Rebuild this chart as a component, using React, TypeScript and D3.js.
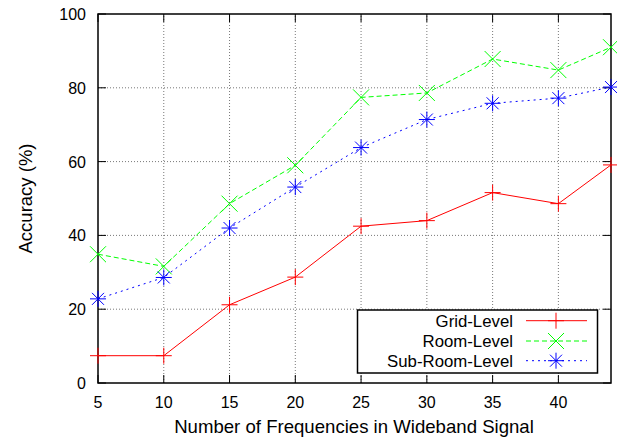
import React, { useEffect, useRef } from "react";
import * as d3 from "d3";

const xValues = [5, 10, 15, 20, 25, 30, 35, 40, 44];
const gridLevel = [7.4, 7.4, 21.2, 28.7, 42.5, 44.0, 51.6, 48.6, 59.1];
const roomLevel = [34.9, 31.6, 48.6, 59.0, 77.4, 78.6, 87.8, 84.8, 91.0];
const subRoomLevel = [22.8, 28.6, 42.0, 53.1, 63.8, 71.4, 75.8, 77.2, 80.2];
const xTicks = [5, 10, 15, 20, 25, 30, 35, 40];
const yTicks = [0, 20, 40, 60, 80, 100];
const seriesNames = ["Grid-Level", "Room-Level", "Sub-Room-Level"];
const seriesColors = ["#ff0000", "#00ff00", "#0000ff"];
const seriesDash = ["none", "5,3", "2,4"];
const seriesMarkers = ["plus", "cross", "star"];

const W = 617, H = 443;
const M = { left: 98, right: 6, top: 14, bottom: 60 };
const FONT = "'Liberation Sans', Arial, sans-serif";

function markerPath(kind: string, s: number): string {
  if (kind === "plus") return `M${-s},0L${s},0M0,${-s}L0,${s}`;
  if (kind === "cross") return `M${-s},${-s}L${s},${s}M${-s},${s}L${s},${-s}`;
  return `M${-s},0L${s},0M0,${-s}L0,${s}M${-s * 0.75},${-s * 0.75}L${s * 0.75},${s * 0.75}M${-s * 0.75},${s * 0.75}L${s * 0.75},${-s * 0.75}`;
}

export default function App() {
  const ref = useRef<SVGSVGElement>(null);
  useEffect(() => {
    const svg = d3.select(ref.current);
    svg.selectAll("*").remove();
    const x = d3.scaleLinear().domain([5, 44]).range([M.left, W - M.right]);
    const y = d3.scaleLinear().domain([0, 100]).range([H - M.bottom, M.top]);
    const x0 = x.range()[0], x1 = x.range()[1], y0 = y.range()[0], y1 = y.range()[1];

    const g = svg.append("g");
    // grid
    xTicks.forEach((t) => {
      if (t === 5) return;
      g.append("line").attr("x1", x(t)).attr("x2", x(t)).attr("y1", y0).attr("y2", y1)
        .attr("stroke", "#555").attr("stroke-width", 0.8).attr("stroke-dasharray", "1,2");
    });
    yTicks.forEach((t) => {
      if (t === 0 || t === 100) return;
      g.append("line").attr("x1", x0).attr("x2", x1).attr("y1", y(t)).attr("y2", y(t))
        .attr("stroke", "#555").attr("stroke-width", 0.8).attr("stroke-dasharray", "1,2");
    });
    // ticks
    const tl = 8;
    xTicks.forEach((t) => {
      g.append("line").attr("x1", x(t)).attr("x2", x(t)).attr("y1", y0).attr("y2", y0 - tl).attr("stroke", "#000");
      g.append("line").attr("x1", x(t)).attr("x2", x(t)).attr("y1", y1).attr("y2", y1 + tl).attr("stroke", "#000");
      g.append("text").attr("x", x(t)).attr("y", y0 + 25).attr("text-anchor", "middle")
        .attr("font-family", FONT).attr("font-size", 16).text(String(t));
    });
    yTicks.forEach((t) => {
      g.append("line").attr("x1", x0).attr("x2", x0 + tl).attr("y1", y(t)).attr("y2", y(t)).attr("stroke", "#000");
      g.append("line").attr("x1", x1).attr("x2", x1 - tl).attr("y1", y(t)).attr("y2", y(t)).attr("stroke", "#000");
      g.append("text").attr("x", x0 - 12).attr("y", y(t) + 6).attr("text-anchor", "end")
        .attr("font-family", FONT).attr("font-size", 16).text(String(t));
    });
    // border
    g.append("rect").attr("x", x0).attr("y", y1).attr("width", x1 - x0).attr("height", y0 - y1)
      .attr("fill", "none").attr("stroke", "#000").attr("stroke-width", 1.5);

    // labels
    g.append("text").attr("x", 354).attr("y", 433).attr("text-anchor", "middle")
      .attr("font-family", FONT).attr("font-size", 18.6).text("Number of Frequencies in Wideband Signal");
    g.append("text").attr("transform", `translate(32,${(y0 + y1) / 2}) rotate(-90)`).attr("text-anchor", "middle")
      .attr("font-family", FONT).attr("font-size", 18.5).text("Accuracy (%)");

    const all = [gridLevel, roomLevel, subRoomLevel];
    const line = d3.line<number>().x((_, i) => x(xValues[i])).y((d) => y(d));
    all.forEach((vals, si) => {
      g.append("path").attr("d", line(vals)!).attr("fill", "none").attr("stroke", seriesColors[si])
        .attr("stroke-width", 1).attr("stroke-dasharray", seriesDash[si]);
      vals.forEach((v, i) => {
        g.append("path").attr("d", markerPath(seriesMarkers[si], 8))
          .attr("transform", `translate(${x(xValues[i])},${y(v)})`)
          .attr("fill", "none").attr("stroke", seriesColors[si]).attr("stroke-width", 1);
      });
    });

    // legend
    const lg = g.append("g");
    lg.append("rect").attr("x", 357.5).attr("y", 310).attr("width", 240).attr("height", 63)
      .attr("fill", "#fff").attr("stroke", "#000").attr("stroke-width", 1.5);
    const baselines = [326.7, 347, 366.7];
    seriesNames.forEach((name, si) => {
      const ly = baselines[si] - 6;
      lg.append("text").attr("x", 513).attr("y", baselines[si]).attr("text-anchor", "end")
        .attr("font-family", FONT).attr("font-size", 16.8).text(name);
      lg.append("line").attr("x1", 526).attr("x2", 587).attr("y1", ly).attr("y2", ly)
        .attr("stroke", seriesColors[si]).attr("stroke-dasharray", seriesDash[si]);
      lg.append("path").attr("d", markerPath(seriesMarkers[si], 8)).attr("transform", `translate(556,${ly})`)
        .attr("fill", "none").attr("stroke", seriesColors[si]);
    });
  }, []);
  return <svg ref={ref} width={W} height={H} style={{ display: "block", position: "absolute", left: 0, top: 0 }} />;
}
